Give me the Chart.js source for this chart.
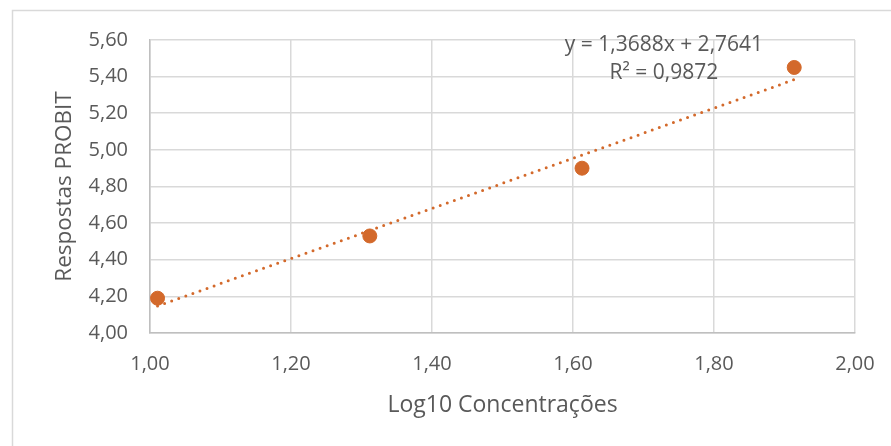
<!DOCTYPE html>
<html>
<head>
<meta charset="utf-8">
<script src="https://cdn.jsdelivr.net/npm/chart.js@4"></script>
<style>
  html, body { margin: 0; padding: 0; background: #fff; }
  #wrap { width: 891px; height: 446px; position: relative; }
</style>
</head>
<body>
<div id="wrap"><canvas id="c" width="891" height="446"></canvas></div>
<script>
// Log10 of the tested concentrations and their probit responses
const logConc = [1.0107, 1.3118, 1.6128, 1.9138];
const probit = [4.19, 4.53, 4.90, 5.45];

// Linear trendline as reported on the chart
const slope = 1.3688;
const intercept = 2.7641;
const equationText = 'y = 1,3688x + 2,7641';
const r2Text = 'R² = 0,9872';

const xTicks = [1.00, 1.20, 1.40, 1.60, 1.80, 2.00];
const yTicks = [4.00, 4.20, 4.40, 4.60, 4.80, 5.00, 5.20, 5.40, 5.60];

const orange = '#D3692B';
const textColor = '#595959';
const fontFamily = "'Open Sans', 'Liberation Sans', sans-serif";

const points = logConc.map((x, i) => ({ x: x, y: probit[i] }));
const xMin = Math.min(...logConc), xMax = Math.max(...logConc);
const trend = [
  { x: xMin, y: slope * xMin + intercept },
  { x: xMax, y: slope * xMax + intercept }
];

const fmt = v => v.toFixed(2).replace('.', ',');

// Outer frame of the chart object and the trendline label
const decorations = {
  id: 'decorations',
  beforeDraw(chart) {
    const ctx = chart.ctx;
    ctx.save();
    ctx.strokeStyle = '#D9D9D9';
    ctx.lineWidth = 1.5;
    ctx.strokeRect(12.5, 10.5, 900, 460);
    ctx.restore();
  },
  afterDatasetsDraw(chart) {
    const ctx = chart.ctx;
    const xs = chart.scales.x, ys = chart.scales.y;
    ctx.save();
    ctx.fillStyle = textColor;
    ctx.font = '21px ' + fontFamily;
    ctx.textAlign = 'center';
    ctx.textBaseline = 'middle';
    ctx.fillText(equationText, xs.getPixelForValue(1.729), ys.getPixelForValue(5.573));
    ctx.fillText(r2Text, xs.getPixelForValue(1.729), ys.getPixelForValue(5.42));
    ctx.restore();
  }
};

new Chart(document.getElementById('c'), {
  type: 'scatter',
  data: {
    datasets: [
      {
        label: 'Respostas PROBIT',
        data: points,
        backgroundColor: orange,
        borderColor: orange,
        pointRadius: 7,
        pointHoverRadius: 7,
        order: 1
      },
      {
        label: 'Linear',
        data: trend,
        showLine: true,
        borderColor: orange,
        borderWidth: 3,
        borderDash: [0, 7.5],
        borderCapStyle: 'round',
        pointRadius: 0,
        fill: false,
        order: 2
      }
    ]
  },
  options: {
    responsive: false,
    animation: false,
    events: [],
    layout: { padding: { left: 0, right: 36, top: 40, bottom: 0 } },
    plugins: {
      legend: { display: false },
      tooltip: { enabled: false }
    },
    scales: {
      x: {
        type: 'linear',
        min: 1.0,
        max: 2.0,
        afterBuildTicks(scale) { scale.ticks = xTicks.map(v => ({ value: v })); },
        afterFit(scale) {
          scale.height = 113;
          scale.paddingLeft = 0;
          scale.paddingRight = 0;
        },
        ticks: {
          callback: v => fmt(v),
          color: textColor,
          font: { family: fontFamily, size: 20 },
          padding: 19,
          maxRotation: 0
        },
        grid: { color: '#D9D9D9', lineWidth: 1.5, drawTicks: false },
        border: { color: '#BFBFBF', width: 1.5 },
        title: {
          display: true,
          text: 'Log10 Concentrações',
          color: textColor,
          font: { family: fontFamily, size: 23 },
          padding: { top: 0, bottom: 27 }
        }
      },
      y: {
        type: 'linear',
        min: 4.0,
        max: 5.6,
        afterBuildTicks(scale) { scale.ticks = yTicks.map(v => ({ value: v })); },
        afterFit(scale) {
          scale.width = 150;
          scale.paddingTop = 0;
          scale.paddingBottom = 0;
        },
        ticks: {
          callback: v => fmt(v),
          color: textColor,
          font: { family: fontFamily, size: 20 },
          padding: 22
        },
        grid: { color: '#D9D9D9', lineWidth: 1.5, drawTicks: false },
        border: { color: '#BFBFBF', width: 1.5 },
        title: {
          display: true,
          text: 'Respostas PROBIT',
          color: textColor,
          font: { family: fontFamily, size: 22.5 },
          padding: { top: 51, bottom: 0 }
        }
      }
    }
  },
  plugins: [decorations]
});
</script>
</body>
</html>
